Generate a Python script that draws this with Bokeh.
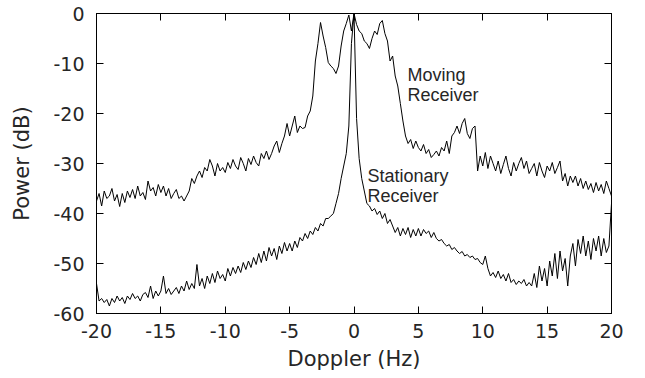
from bokeh.plotting import figure
from bokeh.models import LinearAxis, FixedTicker, Range1d
from bokeh.core.properties import value
from bokeh.embed import file_html
from bokeh.resources import INLINE

# Doppler frequency grid (Hz), 0.2 Hz steps from -20 to 20
doppler = [round(-20 + 0.2 * i, 1) for i in range(201)]

# Moving receiver power (dB)
moving = [
    -37.5, -36.0, -38.5, -35.5, -37.0,
    -36.5, -35.0, -37.5, -36.2, -38.6,
    -36.0, -37.8, -35.5, -36.8, -35.2,
    -37.0, -34.5, -36.5, -35.8, -37.2,
    -33.5, -35.5, -34.8, -36.5, -34.2,
    -35.8, -34.5, -36.5, -35.0, -37.0,
    -36.0, -35.2, -37.0, -36.5, -37.5,
    -36.5, -35.5, -33.0, -34.0, -32.5,
    -31.5, -32.8, -30.8, -31.5, -29.2,
    -30.5, -32.5, -30.0, -31.5, -30.8,
    -31.8, -29.8, -31.0, -29.2, -30.5,
    -31.2, -28.8, -30.0, -31.5, -29.0,
    -30.2, -28.5, -29.8, -30.5, -28.0,
    -29.0, -27.5, -29.2, -28.0, -26.5,
    -25.5, -27.8, -26.0, -24.5, -22.0,
    -24.5, -22.5, -20.5, -23.8, -22.5,
    -23.0, -22.8, -20.5, -19.5, -16.5,
    -9.5, -6.0, -1.8, -4.5, -6.8,
    -9.8, -10.5, -11.0, -12.0, -10.5,
    -6.5, -3.5, -2.0, -0.3, -3.5,
    0.0, -2.2, -3.5, -4.0, -5.5,
    -6.0, -7.0, -5.0, -3.5, -4.2,
    -2.0, -1.4, -4.0, -5.5, -9.5,
    -8.5, -12.5, -14.5, -18.0, -21.5,
    -24.5, -26.0, -25.2, -27.0, -25.5,
    -26.8, -27.5, -26.2, -28.0, -27.2,
    -28.8, -28.2, -27.5, -28.5, -26.8,
    -27.5, -25.5, -28.0, -24.5, -23.8,
    -22.5, -24.0, -22.0, -21.0, -24.0,
    -25.0, -23.0, -22.5, -31.5, -28.5,
    -30.5, -27.8, -31.0, -28.5, -30.0,
    -31.5, -29.5, -32.0, -30.2, -28.5,
    -31.0, -32.5, -29.8, -31.5, -30.0,
    -28.8, -31.0, -29.5, -32.0, -31.0,
    -30.0, -32.5, -29.8, -31.5, -32.8,
    -30.5, -31.5, -29.8, -32.0, -30.8,
    -29.5, -33.5, -32.0, -34.5, -32.5,
    -33.8, -32.5, -34.5, -33.0, -35.0,
    -33.5, -35.2, -34.0, -35.8, -33.8,
    -35.5, -34.2, -36.0, -33.5, -35.0,
    -36.5,
]

# Stationary receiver power (dB)
stationary = [
    -54.0, -57.5, -57.0, -57.8, -57.2,
    -58.5, -57.0, -57.8, -56.5, -57.5,
    -56.8, -58.0, -56.5, -57.2, -56.0,
    -57.0, -56.5, -57.5, -56.2, -55.8,
    -56.8, -54.5, -57.0, -55.5, -56.5,
    -55.5, -52.5, -56.0, -55.0, -56.2,
    -55.5, -54.8, -56.0, -54.5, -55.5,
    -53.5, -55.2, -54.0, -55.0, -50.2,
    -54.5, -53.0, -55.0, -52.5, -54.0,
    -52.0, -53.8, -51.5, -53.0, -52.2,
    -53.5, -51.0, -52.5, -50.8, -52.0,
    -50.5, -51.8, -49.8, -51.2, -49.5,
    -50.8, -48.8, -50.2, -48.0, -49.8,
    -47.5, -49.5, -46.8, -48.5, -47.0,
    -49.2, -46.5, -48.0, -45.8, -47.5,
    -46.0, -47.5, -45.5, -46.8, -44.8,
    -45.5, -44.0, -45.0, -43.5, -44.2,
    -42.8, -43.5, -42.0, -42.5, -41.0,
    -41.0, -40.5, -40.0, -38.0, -36.0,
    -33.0, -30.5, -28.0, -22.5, -6.0,
    0.0, -21.0, -29.0, -33.0, -35.5,
    -38.0, -38.5, -39.5, -39.0, -40.2,
    -39.5, -41.0, -40.0, -42.0, -41.2,
    -42.5, -43.8, -42.8, -44.5, -43.0,
    -44.2, -42.8, -44.8, -43.2, -44.5,
    -43.0, -44.5, -43.2, -44.0, -43.5,
    -44.8, -43.8, -45.0, -45.5, -45.2,
    -46.0, -46.5, -46.2, -47.2, -46.8,
    -47.5, -48.0, -47.6, -48.5, -48.2,
    -48.8, -48.5, -49.2, -49.0, -49.8,
    -50.2, -48.5, -51.0, -52.5, -51.8,
    -52.8, -51.5, -53.0, -52.2, -53.5,
    -52.0, -53.8, -53.2, -54.2, -53.5,
    -54.0, -53.2, -54.5, -53.8, -54.5,
    -52.0, -54.8, -50.5, -53.5, -51.0,
    -54.5, -49.5, -52.5, -48.0, -53.0,
    -47.5, -51.5, -49.0, -54.5, -48.5,
    -46.0, -50.5, -45.2, -48.0, -44.5,
    -48.5, -45.5, -49.2, -45.0, -47.5,
    -44.5, -48.5, -45.0, -47.8, -46.5,
    -38.0,
]

x_ticks = [-20, -15, -10, -5, 0, 5, 10, 15, 20]
y_ticks = [-60, -50, -40, -30, -20, -10, 0]
x_tick_labels = ["-20", "-15", "-10", "-5", "0", "5", "10", "15", "20"]
y_tick_labels = ["-60", "-50", "-40", "-30", "-20", "-10", "0"]

TICK_FONT = "DejaVu Sans"
TXT = "#262626"

p = figure(
    frame_width=515, frame_height=300,
    min_border_left=96, min_border_right=34, min_border_top=13, min_border_bottom=65,
    x_range=Range1d(-20, 20), y_range=Range1d(-60, 0),
    output_backend="svg", toolbar_location=None,
)
p.grid.visible = False
p.outline_line_color = "black"
p.outline_line_width = 1
p.background_fill_color = "white"
p.border_fill_color = "white"

p.line(doppler, moving, line_color="black", line_width=1)
p.line(doppler, stationary, line_color="black", line_width=1)

def style(ax, labels=True):
    ax.axis_line_color = "black"
    ax.major_tick_in = 7
    ax.major_tick_out = 0
    ax.minor_tick_line_color = None
    ax.major_tick_line_color = "black"
    if labels:
        ax.major_label_text_font = TICK_FONT
        ax.major_label_text_font_size = "19px"
        ax.major_label_text_color = TXT
        ax.axis_label_text_font = TICK_FONT
        ax.axis_label_text_font_size = "21px"
        ax.axis_label_text_font_style = "normal"
        ax.axis_label_text_color = TXT
    else:
        ax.major_label_text_font_size = "0px"
        ax.major_label_text_color = None

p.xaxis.ticker = FixedTicker(ticks=x_ticks)
p.yaxis.ticker = FixedTicker(ticks=y_ticks)
p.xaxis.major_label_overrides = {t: s for t, s in zip(x_ticks, x_tick_labels)}
p.yaxis.major_label_overrides = {t: s for t, s in zip(y_ticks, y_tick_labels)}
p.xaxis.axis_label = "Doppler (Hz)"
p.yaxis.axis_label = "Power (dB)"
style(p.xaxis[0])
style(p.yaxis[0])
p.xaxis.major_label_standoff = 10
p.yaxis.major_label_standoff = 12
p.xaxis.axis_label_standoff = 6
p.yaxis.axis_label_standoff = 16

top = LinearAxis(ticker=FixedTicker(ticks=x_ticks))
style(top, labels=False)
p.add_layout(top, "above")
right = LinearAxis(ticker=FixedTicker(ticks=y_ticks))
style(right, labels=False)
p.add_layout(right, "right")

ann = dict(text_font=value("Liberation Sans"), text_font_size="18px",
           text_color=TXT, text_baseline="alphabetic", text_align="left")
p.text(x=[4.15], y=[-12.2], text=["Moving"], **ann)
p.text(x=[4.15], y=[-16.2], text=["Receiver"], **ann)
p.text(x=[1.05], y=[-32.4], text=["Stationary"], **ann)
p.text(x=[1.05], y=[-36.4], text=["Receiver"], **ann)

open("out.html", "w").write(file_html(p, INLINE))
